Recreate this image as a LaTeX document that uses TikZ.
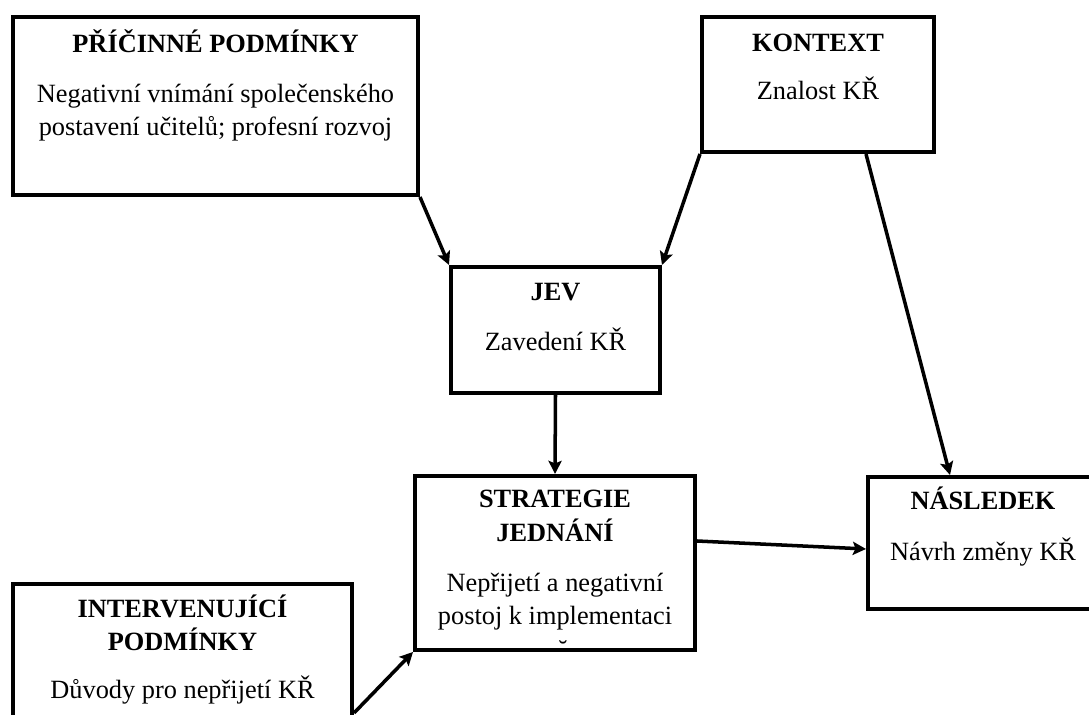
\documentclass[tikz,border=0pt]{standalone}
\usepackage{fontspec}
\setmainfont{Liberation Serif}
\usetikzlibrary{arrows.meta,calc,positioning}
\tikzset{
  ramec/.style={draw, line width=2.3pt, inner sep=0pt},
  popisek/.style={align=center, inner sep=0pt, anchor=base, font=\fontsize{15}{19}\selectfont},
  sipka/.style={-{Stealth[length=7.5pt,width=7.5pt,inset=1.5pt]}, line width=2pt}
}
\begin{document}
\begin{tikzpicture}[x=0.02cm, y=-0.02cm]
\clip (0,0) rectangle (1089,715);
% ramecky
\node[ramec, minimum width=8.1cm, minimum height=3.56cm] (pricina) at (215.5,106) {};
\node[ramec, minimum width=4.64cm, minimum height=2.7cm] (kontext) at (818,84.5) {};
\node[ramec, minimum width=4.18cm, minimum height=2.52cm] (jev) at (555.5,330) {};
\node[ramec, minimum width=5.6cm, minimum height=3.48cm] (strategie) at (555,563) {};
\node[ramec, minimum width=4.6cm, minimum height=2.64cm] (nasledek) at (983,543) {};
\node[ramec, minimum width=6.78cm, minimum height=5.16cm] (intervence) at (182.5,713) {};
% texty (base = posledni radek)
\node[popisek] (pricinaText) at ($(pricina.north)+(0,121)$) {\textbf{PŘÍČINNÉ PODMÍNKY}\\[9.5pt]Negativní vnímání společenského\\postavení učitelů; profesní rozvoj};
\node[popisek] (kontextText) at ($(kontext.north)+(0,85)$) {\textbf{KONTEXT}\\[8.6pt]Znalost KŘ};
\node[popisek] (jevText) at ($(jev.north)+(0,86)$) {\textbf{JEV}\\[9.8pt]Zavedení KŘ};
\node[popisek] (strategieText) at ($(strategie.north)+(0,151)$) {\textbf{STRATEGIE}\\\textbf{JEDNÁNÍ}\\[9.8pt]Nepřijetí a negativní\\postoj k implementaci};
\node[popisek] (nasledekText) at ($(nasledek.north)+(0,86)$) {\textbf{NÁSLEDEK}\\[10.5pt]Návrh změny KŘ};
\node[popisek] (intervenceText) at ($(intervence.north)+(0,116)$) {\textbf{INTERVENUJÍCÍ}\\\textbf{PODMÍNKY}\\[8pt]Důvody pro nepřijetí KŘ};
\node[popisek, anchor=north] (breve) at (563,640) {˘};
% sipky
\draw[sipka] (pricina.south east) -- (jev.north west);
\draw[sipka] (kontext.south west) -- (jev.north east);
\draw[sipka] (jev.south) -- (strategie.north);
\draw[sipka] ($(kontext.south)+(48,0)$) -- ($(nasledek.north)+(-33,0)$);
\draw[sipka] ($(strategie.east)+(0,-22)$) -- ($(nasledek.west)+(0,6)$);
\draw[sipka] (intervence.east) -- (strategie.south west);
\end{tikzpicture}
\end{document}
